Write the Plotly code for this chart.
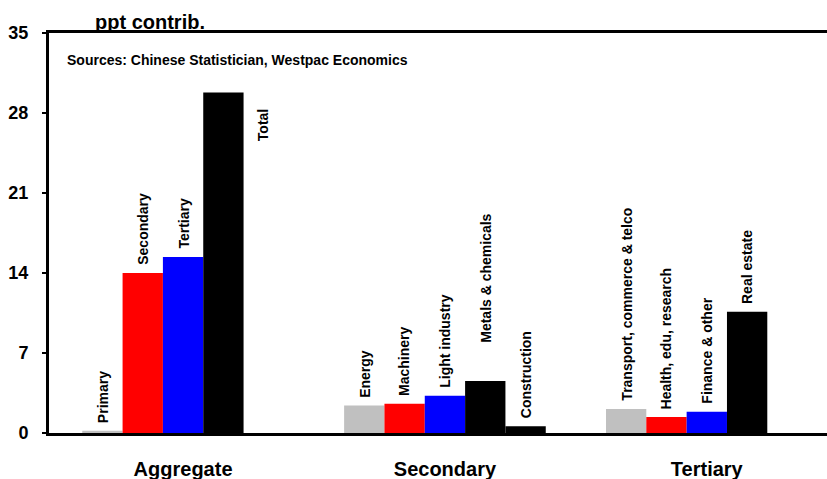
import plotly.graph_objects as go

# Contribution to growth, percentage points
groups = ["Aggregate", "Secondary", "Tertiary"]

series_names = ["Series 1", "Series 2", "Series 3", "Series 4", "Series 5"]
series_colors = ["#C0C0C0", "#FF0000", "#0000FF", "#000000", "#000000"]

values = [
    [0.2, 2.4, 2.1],      # Primary / Energy / Transport
    [14.0, 2.55, 1.4],    # Secondary / Machinery / Health
    [15.4, 3.25, 1.85],   # Tertiary / Light industry / Finance
    [29.8, 4.55, 10.6],   # Total / Metals / Real estate
    [None, 0.6, None],    # Construction
]

bar_labels = [
    ["Primary", "Energy", "Transport, commerce & telco"],
    ["Secondary", "Machinery", "Health, edu, research"],
    ["Tertiary", "Light industry", "Finance & other"],
    ["Total", "Metals & chemicals", "Real estate"],
    [None, "Construction", None],
]

y_ticks = [0, 7, 14, 21, 28, 35]

FONT = "Liberation Sans, Arial, sans-serif"
BARGAP = 0.23
n_series = len(values)
slot = (1 - BARGAP) / n_series

fig = go.Figure()
x_pos = list(range(len(groups)))
for k in range(n_series):
    fig.add_trace(go.Bar(
        x=x_pos, y=values[k], name=series_names[k],
        marker=dict(color=series_colors[k], line=dict(width=0)),
        showlegend=False,
    ))

# rotated labels above each bar; "Total" sits beside its bar
label_nudge = {(3, 1): 30}
label_font = dict(family=FONT, size=14, color="black", weight="bold")
annotations = []
for k in range(n_series):
    off = -(1 - BARGAP) / 2 + (k + 0.5) * slot
    for i, lab in enumerate(bar_labels[k]):
        if lab is None:
            continue
        v = values[k][i]
        if lab == "Total":
            annotations.append(dict(
                x=i + off + slot, y=v, xref="x", yref="y", text=lab,
                textangle=-90, showarrow=False, xanchor="center",
                yanchor="top", yshift=-15, font=label_font,
            ))
        else:
            annotations.append(dict(
                x=i + off, y=v, xref="x", yref="y", text=lab,
                textangle=-90, showarrow=False, xanchor="center",
                yanchor="bottom", yshift=6 + label_nudge.get((k, i), 0),
                font=label_font,
            ))

annotations.append(dict(
    x=0.056, y=1, xref="paper", yref="paper", text="ppt contrib.",
    showarrow=False, xanchor="left", yanchor="bottom", yshift=-2,
    font=dict(family=FONT, size=20, color="black", weight="bold"),
))
annotations.append(dict(
    x=0.021, y=1, xref="paper", yref="paper",
    text="Sources: Chinese Statistician, Westpac Economics",
    showarrow=False, xanchor="left", yanchor="top", yshift=-17,
    font=dict(family=FONT, size=14, color="black", weight="bold"),
))

fig.update_layout(
    width=827, height=479,
    margin=dict(l=49, r=0, t=33, b=46),
    barmode="group", bargap=BARGAP, bargroupgap=0,
    plot_bgcolor="white", paper_bgcolor="white",
    annotations=annotations,
    font=dict(family=FONT, color="black"),
)
fig.update_xaxes(
    range=[-0.512, 2.459], tickvals=x_pos, ticktext=groups,
    showline=True, linecolor="black", linewidth=3, mirror=True,
    ticks="", showgrid=False, zeroline=False,
    tickfont=dict(family=FONT, size=20, color="black", weight="bold"),
    ticklabelstandoff=16,
)
fig.update_yaxes(
    range=[0, 35], tickvals=y_ticks,
    showline=True, linecolor="black", linewidth=3,
    ticks="outside", ticklen=4, tickwidth=2, tickcolor="black",
    showgrid=False, zeroline=False,
    tickfont=dict(family=FONT, size=18, color="black", weight="bold"),
    ticklabelstandoff=10,
)

fig.write_html("out.html")
